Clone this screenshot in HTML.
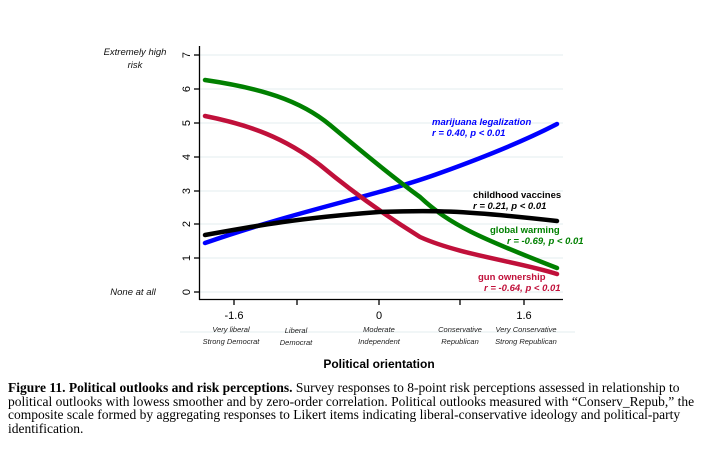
<!DOCTYPE html>
<html><head><meta charset="utf-8"><style>
body{margin:0;background:#fff;width:714px;height:455px;overflow:hidden}
svg{display:block}
.cap{position:absolute;left:8px;top:381px;width:690px;font-family:"Liberation Serif",serif;font-size:13.5px;line-height:13.7px;color:#000}
</style></head><body>
<svg width="714" height="380" style="position:absolute;left:0;top:0" font-family="Liberation Sans, sans-serif">
<g stroke="#e3ecef" stroke-width="1">
<line x1="200" x2="563" y1="55" y2="55"/><line x1="200" x2="563" y1="89" y2="89"/><line x1="200" x2="563" y1="123" y2="123"/><line x1="200" x2="563" y1="157" y2="157"/><line x1="200" x2="563" y1="191" y2="191"/><line x1="200" x2="563" y1="224" y2="224"/><line x1="200" x2="563" y1="258" y2="258"/><line x1="200" x2="563" y1="292" y2="292"/>
<line x1="180" x2="575" y1="332" y2="332"/>
</g>
<g stroke="#000" stroke-width="1.3" fill="none">
<line x1="199.5" y1="46" x2="199.5" y2="300"/><line x1="199" y1="299.5" x2="563" y2="299.5"/>
<line x1="194" x2="199" y1="55" y2="55"/><line x1="194" x2="199" y1="89" y2="89"/><line x1="194" x2="199" y1="123" y2="123"/><line x1="194" x2="199" y1="157" y2="157"/><line x1="194" x2="199" y1="191" y2="191"/><line x1="194" x2="199" y1="224" y2="224"/><line x1="194" x2="199" y1="258" y2="258"/><line x1="194" x2="199" y1="292" y2="292"/>
<line x1="234" x2="234" y1="300" y2="305"/><line x1="297" x2="297" y1="300" y2="305"/><line x1="379" x2="379" y1="300" y2="305"/><line x1="460" x2="460" y1="300" y2="305"/><line x1="524" x2="524" y1="300" y2="305"/>
</g>
<g font-size="11" fill="#000">
<text transform="translate(190,55) rotate(-90)" text-anchor="middle">7</text>
<text transform="translate(190,89) rotate(-90)" text-anchor="middle">6</text>
<text transform="translate(190,123) rotate(-90)" text-anchor="middle">5</text>
<text transform="translate(190,157) rotate(-90)" text-anchor="middle">4</text>
<text transform="translate(190,191) rotate(-90)" text-anchor="middle">3</text>
<text transform="translate(190,224) rotate(-90)" text-anchor="middle">2</text>
<text transform="translate(190,258) rotate(-90)" text-anchor="middle">1</text>
<text transform="translate(190,292) rotate(-90)" text-anchor="middle">0</text>
<text x="234" y="319" text-anchor="middle">-1.6</text><text x="379" y="319" text-anchor="middle">0</text><text x="524" y="319" text-anchor="middle">1.6</text>
</g>
<g font-size="9.5" font-style="italic" fill="#111" text-anchor="middle">
<text x="135" y="55">Extremely high</text><text x="135" y="68">risk</text>
<text x="133" y="295">None at all</text>
</g>
<g font-size="7.5" font-style="italic" fill="#222" text-anchor="middle">
<text x="231" y="332">Very liberal</text><text x="231" y="344">Strong Democrat</text>
<text x="296" y="333">Liberal</text><text x="296" y="345">Democrat</text>
<text x="379" y="332">Moderate</text><text x="379" y="344">Independent</text>
<text x="460" y="332">Conservative</text><text x="460" y="344">Republican</text>
<text x="526" y="332">Very Conservative</text><text x="526" y="344">Strong Republican</text>
</g>
<text x="379" y="368" text-anchor="middle" font-size="12" font-weight="bold">Political orientation</text>
<g fill="none" stroke-width="4.5" stroke-linecap="round">
<path d="M205,243 C300,210 380,195 440,173 C490,155 530,138 557,124" stroke="#0000ff"/>
<path d="M205,116 C250,125 285,138 320,165 C350,190 380,212 420,237 C460,255 520,262 557,274" stroke="#c0103a"/>
<path d="M205,80 C260,88 300,100 330,125 C360,150 390,175 420,197 C450,225 480,238 557,268" stroke="#008000"/>
<path d="M205,235 C260,225 300,218 379,212 C430,210 460,210 557,221" stroke="#000"/>
</g>
<g font-size="9.5" font-style="italic" font-weight="bold">
<text x="432" y="125" fill="#0000ff">marijuana legalization</text><text x="432" y="136" fill="#0000ff">r = 0.40, p &lt; 0.01</text>
<text x="473" y="198" fill="#000" font-style="normal">childhood vaccines</text><text x="473" y="209" fill="#000">r = 0.21, p &lt; 0.01</text>
<text x="490" y="233" fill="#008000" font-style="normal">global warming</text><text x="507" y="244" fill="#008000">r = -0.69, p &lt; 0.01</text>
<text x="478" y="280" fill="#c0103a" font-style="normal">gun ownership</text><text x="484" y="291" fill="#c0103a">r = -0.64, p &lt; 0.01</text>
</g>
</svg>
<div class="cap"><b>Figure 11. Political outlooks and risk perceptions.</b> Survey responses to 8-point risk perceptions assessed in relationship to political outlooks with lowess smoother and by zero-order correlation. Political outlooks measured with “Conserv_Repub,” the composite scale formed by aggregating responses to Likert items indicating liberal-conservative ideology and political-party identification.</div>
</body></html>
